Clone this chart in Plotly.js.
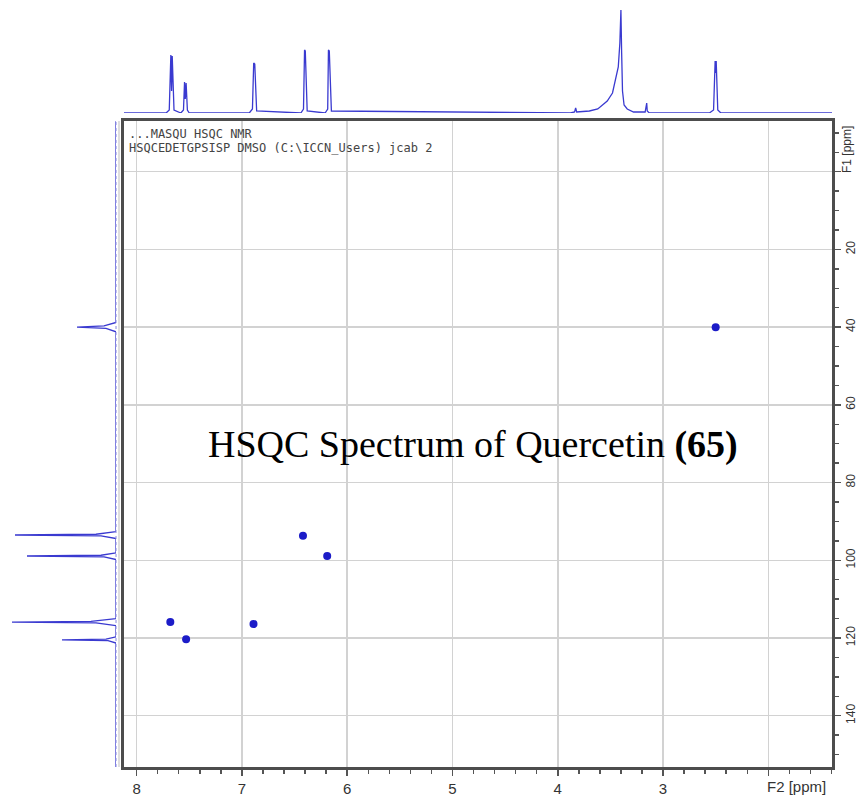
<!DOCTYPE html>
<html>
<head>
<meta charset="utf-8">
<script src="https://cdn.plot.ly/plotly-3.0.1.min.js"></script>
<style>html,body{margin:0;padding:0;background:#fff;}#chart{width:865px;height:798px;}</style>
</head>
<body>
<div id="chart"></div>
<script>
// Cross peaks (F2 = 1H ppm, F1 = 13C ppm)
const crossH = [2.50, 6.42, 6.19, 7.68, 7.53, 6.89];
const crossC = [40.0, 93.7, 98.9, 115.9, 120.3, 116.4];

// 1H projection (top), ppm and relative intensity
const topPpm = [8.12, 7.72, 7.69, 7.675, 7.668, 7.662, 7.645, 7.58, 7.555, 7.545, 7.538, 7.530, 7.518, 7.50,
  6.93, 6.90, 6.888, 6.878, 6.86, 6.44, 6.415, 6.405, 6.398, 6.38, 6.21, 6.185, 6.178, 6.170, 6.15,
  3.88, 3.84, 3.83, 3.82, 3.70, 3.62, 3.53, 3.48, 3.45, 3.425, 3.41, 3.40, 3.393, 3.385, 3.37, 3.34, 3.28,
  3.17, 3.155, 3.15, 3.13, 2.56, 2.52, 2.505, 2.50, 2.495, 2.48, 2.45, 1.395];
const topInt = [0, 0, 3, 58, 22, 57, 3, 0, 3, 31, 14, 30, 3, 0,
  0, 4, 50, 49, 2, 0, 4, 63, 62, 2, 0, 4, 63, 62, 2,
  0, 1, 5, 1, 2, 4, 12, 20, 33, 46, 70, 103, 60, 22, 8, 4, 1,
  1, 10, 2, 0, 0, 3, 52, 40, 52, 3, 0, 0];

// 13C projection (left), ppm and relative intensity
const leftPpm = [-13, 38.8, 39.7, 40.0, 40.3, 41.2, 92.6, 93.3, 93.5, 93.7, 94.4, 98.1, 98.7, 98.9, 99.1, 99.8,
  115.0, 115.7, 115.9, 116.1, 116.8, 119.7, 120.3, 120.5, 120.7, 121.3, 153.2];
const leftInt = [0, 0, 12, 39, 10, 0, 0, 20, 101, 15, 0, 0, 15, 89, 12, 0,
  0, 25, 104, 20, 0, 0, 10, 54, 8, 0, 0];

// Axis ticks
const xTickVals = [8, 7, 6, 5, 4, 3, 2];
const xTickText = ['8', '7', '6', '5', '4', '3', ''];
const yTickVals = [0, 20, 40, 60, 80, 100, 120, 140];
const yTickText = ['', '20', '40', '60', '80', '100', '120', '140'];

const W = 865, H = 798;
const xDom = [124 / W, 832 / W];
const yDom = [1 - 767 / H, 1 - 121 / H];
const xRange = [8.12, 1.395];
const yRange = [153.2, -13.05];

const traces = [
  {x: topPpm, y: topInt, xaxis: 'x2', yaxis: 'y2', type: 'scatter', mode: 'lines',
   line: {color: '#3a3ad0', width: 1.3}, hoverinfo: 'skip'},
  {x: leftInt, y: leftPpm, xaxis: 'x3', yaxis: 'y3', type: 'scatter', mode: 'lines',
   line: {color: '#3a3ad0', width: 1.3}, hoverinfo: 'skip'},
  {x: crossH, y: crossC, xaxis: 'x', yaxis: 'y', type: 'scatter', mode: 'markers',
   marker: {color: '#1c1cc8', size: 8, symbol: 'circle', line: {width: 0}}}
];

const tickFont = {family: 'Liberation Sans, Arial, sans-serif', size: 15, color: '#333'};

const layout = {
  width: W, height: H,
  margin: {l: 0, r: 0, t: 0, b: 0},
  paper_bgcolor: '#fff', plot_bgcolor: '#fff',
  showlegend: false,
  xaxis: {
    domain: xDom, range: xRange, anchor: 'y',
    tickmode: 'array', tickvals: xTickVals, ticktext: xTickText,
    ticks: 'outside', ticklen: 6, tickwidth: 1.5, tickcolor: '#555',
    minor: {dtick: 0.2, tick0: 0, ticks: 'outside', ticklen: 4, tickwidth: 1.5, tickcolor: '#555', showgrid: false},
    showgrid: true, gridcolor: '#d2d2d2', gridwidth: 1.5, zeroline: false,
    showline: true, mirror: true, linecolor: '#4d4d4d', linewidth: 3,
    tickfont: tickFont
  },
  yaxis: {
    domain: yDom, range: yRange, anchor: 'x', side: 'right',
    tickmode: 'array', tickvals: yTickVals, ticktext: yTickText, tickangle: -90,
    ticks: 'outside', ticklen: 6, tickwidth: 1.5, tickcolor: '#555',
    minor: {dtick: 5, tick0: 0, ticks: 'outside', ticklen: 4, tickwidth: 1.5, tickcolor: '#555', showgrid: false},
    showgrid: true, gridcolor: '#d2d2d2', gridwidth: 1.5, zeroline: false,
    showline: true, mirror: true, linecolor: '#4d4d4d', linewidth: 3,
    tickfont: {family: 'Liberation Sans, Arial, sans-serif', size: 12, color: '#333'}
  },
  xaxis2: {domain: xDom, range: xRange, anchor: 'y2', visible: false},
  yaxis2: {domain: [1 - 113 / H, 1], range: [0, 113], anchor: 'x2', visible: false},
  xaxis3: {domain: [0, 116 / W], range: [116, 0], anchor: 'y3', visible: false},
  yaxis3: {domain: yDom, range: yRange, anchor: 'x3', visible: false},
  shapes: [
    {type: 'line', xref: 'paper', yref: 'paper', x0: 116 / W, x1: 116 / W, y0: yDom[0], y1: yDom[1],
     line: {color: '#8a8ae0', width: 1, dash: 'dot'}},
    {type: 'line', xref: 'paper', yref: 'paper', x0: 119 / W, x1: 119 / W, y0: yDom[0], y1: yDom[1],
     line: {color: '#bdbdbd', width: 1}}
  ],
  annotations: [
    {text: 'HSQC Spectrum of Quercetin <b>(65)</b>', xref: 'paper', yref: 'paper',
     x: 473 / W, y: 1 - 444 / H, xanchor: 'center', yanchor: 'middle', showarrow: false,
     font: {family: 'Liberation Serif, Times New Roman, serif', size: 38, color: '#000'}},
    {text: '...MASQU HSQC NMR', xref: 'paper', yref: 'paper',
     x: 127 / W, y: 1 - 134 / H, xanchor: 'left', yanchor: 'middle', showarrow: false,
     font: {family: 'DejaVu Sans Mono, monospace', size: 12, color: '#444'}},
    {text: 'HSQCEDETGPSISP DMSO (C:\\ICCN_Users) jcab 2', xref: 'paper', yref: 'paper',
     x: 127 / W, y: 1 - 148 / H, xanchor: 'left', yanchor: 'middle', showarrow: false,
     font: {family: 'DejaVu Sans Mono, monospace', size: 12, color: '#444'}},
    {text: 'F1 [ppm]', xref: 'paper', yref: 'paper', textangle: -90,
     x: 847 / W, y: 1 - 150 / H, xanchor: 'center', yanchor: 'middle', showarrow: false,
     font: {family: 'Liberation Sans, Arial, sans-serif', size: 12, color: '#333'}},
    {text: 'F2 [ppm]', xref: 'paper', yref: 'paper',
     x: 765 / W, y: 1 - 786 / H, xanchor: 'left', yanchor: 'middle', showarrow: false,
     font: tickFont}
  ]
};

Plotly.newPlot('chart', traces, layout, {displayModeBar: false, staticPlot: true});
</script>
</body>
</html>
